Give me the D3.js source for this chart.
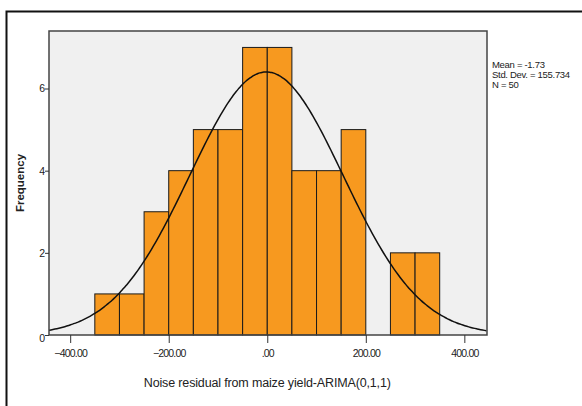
<!DOCTYPE html>
<html>
<head>
<meta charset="utf-8">
<script src="https://cdn.jsdelivr.net/npm/d3@7"></script>
<style>
  html, body { margin: 0; padding: 0; background: #fff; }
  svg { display: block; font-family: "Liberation Sans Narrow", "Arial Narrow", "Liberation Sans", Arial, sans-serif; }
  .tick text { font-size: 10.5px; fill: #222; }
</style>
</head>
<body>
<div id="chart"></div>
<script>
/* ---------- Data ---------- */
const binStarts = [-350, -300, -250, -200, -150, -100, -50, 0, 50, 100, 150, 200, 250, 300];
const binWidth = 50;
const counts    = [1, 1, 3, 4, 5, 5, 7, 7, 4, 4, 5, 0, 2, 2];
const xTicks = [-400, -200, 0, 200, 400];
const yTicks = [0, 2, 4, 6];
const statLabels = ["Mean = -1.73", "Std. Dev. = 155.734", "N = 50"];
const stats = { mean: -1.73, sd: 155.734, n: 50 };

/* ---------- Layout ---------- */
const W = 582, H = 406;
const M = { top: 31, right: 95, bottom: 71, left: 49 };

const svg = d3.select("#chart").append("svg")
  .attr("width", W).attr("height", H);

// outer frame (only top + left visible)
svg.append("path")
  .attr("d", `M6.5,${H} V11.5 H${W}`)
  .attr("fill", "none").attr("stroke", "#111").attr("stroke-width", 2);

const x = d3.scaleLinear().domain([-443, 446]).range([M.left, W - M.right]);
const y = d3.scaleLinear().domain([0, 7.4]).range([H - M.bottom, M.top]);

// plot background
svg.append("rect")
  .attr("x", M.left).attr("y", M.top)
  .attr("width", W - M.right - M.left).attr("height", H - M.bottom - M.top)
  .attr("fill", "#f0f0f0");

// bars
const bins = binStarts.map((s, i) => ({ x0: s, x1: s + binWidth, n: counts[i] }));
svg.append("g").selectAll("rect")
  .data(bins.filter(d => d.n > 0))
  .join("rect")
    .attr("x", d => x(d.x0))
    .attr("y", d => y(d.n))
    .attr("width", d => x(d.x1) - x(d.x0))
    .attr("height", d => y(0) - y(d.n))
    .attr("fill", "#f7991f")
    .attr("stroke", "#1a1a1a")
    .attr("stroke-width", 1);

// normal curve from stated mean / sd / N
const pdf = v => stats.n * binWidth / (stats.sd * Math.sqrt(2 * Math.PI)) *
  Math.exp(-0.5 * ((v - stats.mean) / stats.sd) ** 2);
const curveX = d3.range(x.domain()[0], x.domain()[1] + 1, 4);
svg.append("path")
  .datum(curveX)
  .attr("fill", "none")
  .attr("stroke", "#111")
  .attr("stroke-width", 1.5)
  .attr("d", d3.line().x(v => x(v)).y(v => y(pdf(v))).curve(d3.curveBasis));

// plot border
svg.append("rect")
  .attr("x", M.left).attr("y", M.top)
  .attr("width", W - M.right - M.left).attr("height", H - M.bottom - M.top)
  .attr("fill", "none").attr("stroke", "#444").attr("stroke-width", 1.5);

// axes
const fmtX = v => v === 0 ? ".00" : d3.format(".2f")(v);
const gx = svg.append("g")
  .attr("transform", `translate(0,${H - M.bottom})`)
  .call(d3.axisBottom(x).tickValues(xTicks).tickFormat(fmtX).tickSize(8).tickSizeOuter(0));
gx.select(".domain").remove();
gx.selectAll(".tick line").attr("stroke", "#333");
gx.selectAll(".tick text").attr("dy", "1.05em").attr("letter-spacing", "-0.8px");

const gy = svg.append("g")
  .attr("transform", `translate(${M.left},0)`)
  .call(d3.axisLeft(y).tickValues(yTicks).tickFormat(d3.format("d")).tickSize(4).tickSizeOuter(0));
gy.select(".domain").remove();
gy.selectAll(".tick line").attr("stroke", "#333");
gy.selectAll(".tick text").attr("x", -4).attr("dy", d => d === 0 ? "0.6em" : "0.32em");

// axis titles
svg.append("text")
  .attr("x", x(0)).attr("y", 387)
  .attr("text-anchor", "middle")
  .attr("font-size", 12.5)
  .attr("letter-spacing", "-0.15px")
  .attr("fill", "#222")
  .text("Noise residual from maize yield-ARIMA(0,1,1)");

svg.append("text")
  .attr("transform", `translate(24,${(M.top + H - M.bottom) / 2}) rotate(-90)`)
  .attr("text-anchor", "middle")
  .attr("font-size", 11.5)
  .attr("font-weight", "bold")
  .attr("fill", "#222")
  .text("Frequency");

// stats legend
svg.append("g").selectAll("text")
  .data(statLabels)
  .join("text")
    .attr("x", 492)
    .attr("y", (d, i) => 68 + i * 10)
    .attr("font-size", 9.5)
    .attr("letter-spacing", "-0.3px")
    .attr("fill", "#222")
    .text(d => d);
</script>
</body>
</html>
